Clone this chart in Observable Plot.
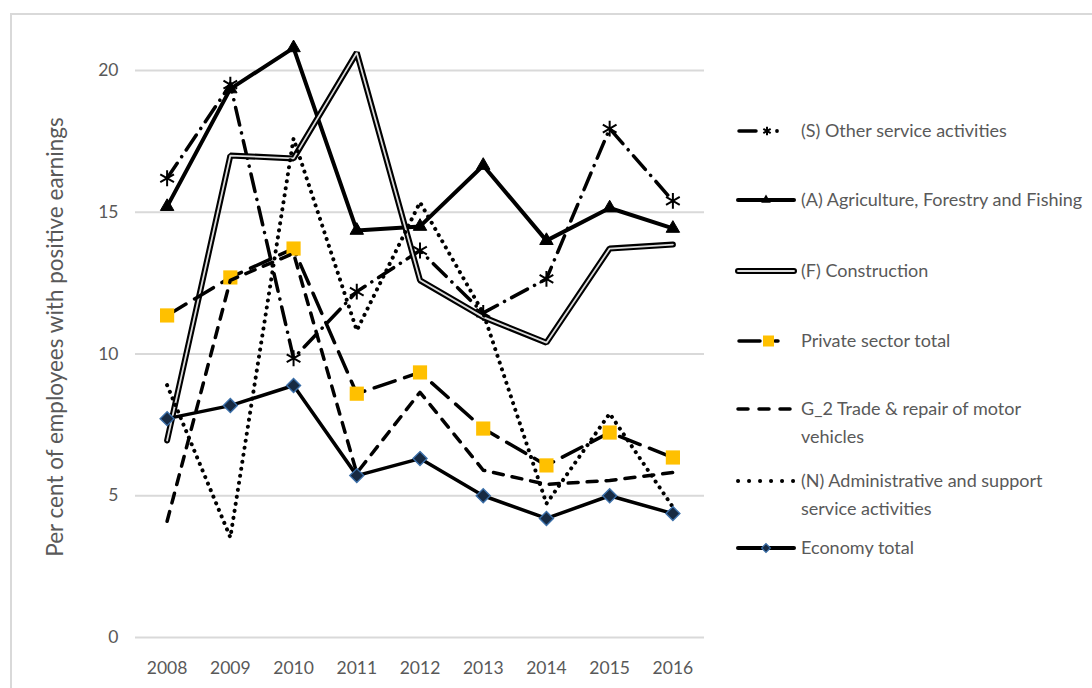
<!DOCTYPE html>
<html>
<head>
<meta charset="utf-8">
<script src="https://cdn.jsdelivr.net/npm/d3@7"></script>
<script src="https://cdn.jsdelivr.net/npm/@observablehq/plot@0.6"></script>
<style>
  html, body { margin: 0; padding: 0; background: #fff; overflow: hidden; }
  #wrap { position: relative; width: 1092px; height: 688px; overflow: hidden; }
  #frame { position: absolute; left: 10px; top: 13px; width: 2000px; height: 2000px;
           border: 2px solid #d9d9d9; box-sizing: border-box; }
  #chart { position: absolute; left: 0; top: 0; }
  #legend { position: absolute; left: 0; top: 0; pointer-events: none; }
</style>
</head>
<body>
<div id="wrap">
  <div id="frame"></div>
  <div id="chart"></div>
  <svg id="legend" width="1092" height="688"></svg>
</div>
<script>
// ---- data ----
const years = [2008, 2009, 2010, 2011, 2012, 2013, 2014, 2015, 2016];
const yTicks = [0, 5, 10, 15, 20];
const yLabel = "Per cent of employees with positive earnings";

const otherService   = [16.2, 19.5, 9.85, 12.2, 13.65, 11.45, 12.65, 17.95, 15.4];
const agriculture    = [15.2, 19.35, 20.8, 14.36, 14.5, 16.65, 14.0, 15.15, 14.43];
const construction   = [6.95, 17.0, 16.9, 20.63, 12.6, 11.3, 10.4, 13.72, 13.86];
const privateTotal   = [11.36, 12.7, 13.72, 8.6, 9.35, 7.37, 6.07, 7.23, 6.35];
const tradeRepair    = [4.1, 12.6, 13.55, 5.8, 8.65, 5.9, 5.4, 5.54, 5.82];
const adminSupport   = [8.9, 3.53, 17.6, 10.83, 15.35, 11.45, 4.72, 7.9, 4.6];
const economyTotal   = [7.72, 8.18, 8.89, 5.71, 6.31, 5.0, 4.2, 5.0, 4.37];

const legendLabels = [
  ["(S) Other service activities"],
  ["(A) Agriculture, Forestry and Fishing"],
  ["(F) Construction"],
  ["Private sector total"],
  ["G_2 Trade & repair of motor", "vehicles"],
  ["(N) Administrative and support", "service activities"],
  ["Economy total"]
];

const toRows = vals => years.map((year, i) => ({year, value: vals[i]}));
const S = toRows(otherService), A = toRows(agriculture), F = toRows(construction),
      P = toRows(privateTotal), G = toRows(tradeRepair), N = toRows(adminSupport),
      E = toRows(economyTotal);

const FONT = "Lato, 'Open Sans', sans-serif";
const TXT = "#595959";
const xy = {x: "year", y: "value"};

const chart = Plot.plot({
  width: 1092, height: 688,
  marginLeft: 135, marginRight: 388, marginTop: 70, marginBottom: 51,
  style: {fontFamily: FONT, background: "transparent", color: TXT, overflow: "visible"},
  x: {domain: [2007.5, 2016.5], label: null},
  y: {domain: [0, 20], label: null},
  marks: [
    Plot.gridY(yTicks, {stroke: "#d9d9d9", strokeOpacity: 1, strokeWidth: 2}),
    Plot.axisX(years, {tickSize: 0, tickPadding: 24, fontSize: 17.5, color: TXT, tickFormat: d => String(d), label: null}),
    Plot.axisY(yTicks, {tickSize: 0, tickPadding: 17, fontSize: 17.5, color: TXT, label: null}),
    Plot.text([yLabel], {frameAnchor: "left", dx: -80, dy: -17, rotate: -90, fontSize: 22.5, fill: TXT, textAnchor: "middle"}),
    // (S) Other service activities
    Plot.line(S, {...xy, stroke: "black", strokeWidth: 3.5, strokeDasharray: "18,8,0.1,8", strokeLinecap: "round", strokeLinejoin: "round"}),
    Plot.dot(S, {...xy, symbol: "asterisk", r: 7.5, stroke: "black", strokeWidth: 2}),
    // (A) Agriculture
    Plot.line(A, {...xy, stroke: "black", strokeWidth: 4, strokeLinejoin: "miter", strokeLinecap: "round"}),
    Plot.dot(A, {...xy, symbol: "triangle", r: 5, fill: "black", stroke: "black", strokeWidth: 1}),
    // (F) Construction (double line)
    Plot.line(F, {...xy, stroke: "black", strokeWidth: 6, strokeLinejoin: "miter", strokeLinecap: "round"}),
    Plot.line(F, {...xy, stroke: "#dcdcdc", strokeWidth: 1.8, strokeLinejoin: "miter", strokeLinecap: "round"}),
    // Private sector total
    Plot.line(P, {...xy, stroke: "black", strokeWidth: 3.5, strokeDasharray: "22,10", strokeLinecap: "round", strokeLinejoin: "round"}),
    Plot.dot(P, {...xy, symbol: "square", r: 8, fill: "#FFC000", stroke: "none"}),
    // G_2 Trade & repair
    Plot.line(G, {...xy, stroke: "black", strokeWidth: 3.5, strokeDasharray: "10,9", strokeLinecap: "round", strokeLinejoin: "round"}),
    // (N) Administrative
    Plot.line(N, {...xy, stroke: "black", strokeWidth: 4, strokeDasharray: "0.1,7", strokeLinecap: "round", strokeLinejoin: "round"}),
    // Economy total
    Plot.line(E, {...xy, stroke: "black", strokeWidth: 3.5, strokeLinejoin: "round", strokeLinecap: "round"}),
    Plot.dot(E, {...xy, symbol: "diamond2", r: 6.3, fill: "#172a42", stroke: "#3a6ea8", strokeWidth: 1.4})
  ]
});
document.getElementById("chart").appendChild(chart);

// ---- legend ----
const lg = d3.select("#legend");
const LX0 = 738, LX1 = 794, MX = 766, TX = 801;
const itemY = [131, 200, 271, 341, 409, 481, 548];
const lineGap = 28;

function hline(y, attrs) {
  const l = lg.append("line").attr("x1", LX0).attr("x2", LX1).attr("y1", y).attr("y2", y);
  for (const k in attrs) l.attr(k, attrs[k]);
  return l;
}
// S
{
  const y = itemY[0];
  lg.append("line").attr("x1", 739).attr("x2", 756).attr("y1", y).attr("y2", y)
    .attr("stroke", "black").attr("stroke-width", 3.5).attr("stroke-linecap", "round");
  lg.append("path").attr("transform", `translate(767,${y})`)
    .attr("d", d3.symbol(d3.symbolAsterisk, 50)()).attr("stroke", "black").attr("stroke-width", 2).attr("fill", "none");
  lg.append("circle").attr("cx", 777).attr("cy", y).attr("r", 1.9).attr("fill", "black");
}
// A
{
  const y = itemY[1];
  hline(y, {stroke: "black", "stroke-width": 4, "stroke-linecap": "round"});
  lg.append("path").attr("transform", `translate(${MX},${y})`)
    .attr("d", d3.symbol(d3.symbolTriangle, 40)()).attr("fill", "black");
}
// F
{
  const y = itemY[2];
  hline(y, {stroke: "black", "stroke-width": 6, "stroke-linecap": "round"});
  hline(y, {stroke: "#dcdcdc", "stroke-width": 1.8, "stroke-linecap": "round"});
}
// Private
{
  const y = itemY[3];
  lg.append("line").attr("x1", 739).attr("x2", 760).attr("y1", y).attr("y2", y)
    .attr("stroke", "black").attr("stroke-width", 3.5).attr("stroke-linecap", "round");
  lg.append("line").attr("x1", 775).attr("x2", 778).attr("y1", y).attr("y2", y)
    .attr("stroke", "black").attr("stroke-width", 3.5).attr("stroke-linecap", "round");
  lg.append("rect").attr("x", 763).attr("y", y - 5.5).attr("width", 11).attr("height", 11).attr("fill", "#FFC000");
}
// G_2
hline(itemY[4], {stroke: "black", "stroke-width": 3.5, "stroke-linecap": "round", "stroke-dasharray": "10,11"});
// N
hline(itemY[5], {stroke: "black", "stroke-width": 4, "stroke-linecap": "round", "stroke-dasharray": "0.1,10.9"});
// Economy
{
  const y = itemY[6];
  hline(y, {stroke: "black", "stroke-width": 4, "stroke-linecap": "round"});
  lg.append("path").attr("transform", `translate(${MX},${y})`)
    .attr("d", d3.symbol(d3.symbolDiamond2, 50)()).attr("fill", "#172a42").attr("stroke", "#3a6ea8").attr("stroke-width", 1.2);
}
// labels
legendLabels.forEach((lines, i) => {
  lines.forEach((t, j) => {
    lg.append("text").attr("x", TX).attr("y", itemY[i] + j * lineGap)
      .attr("dy", "0.35em").attr("fill", TXT)
      .style("font-family", FONT).style("font-size", "18px").text(t);
  });
});
</script>
</body>
</html>
